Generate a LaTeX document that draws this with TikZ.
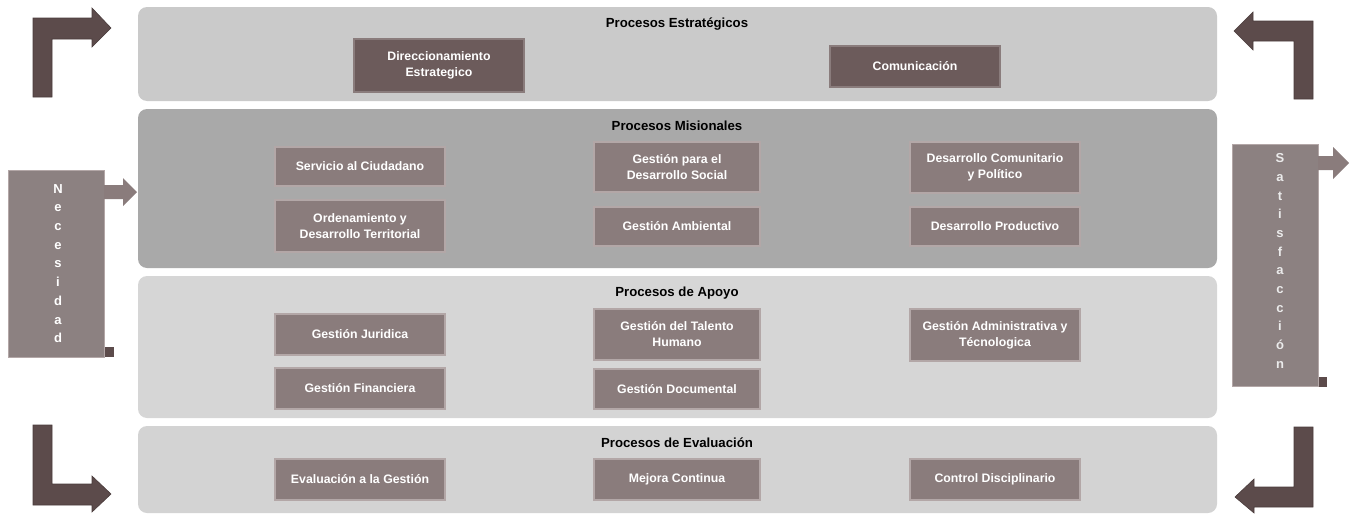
\documentclass[tikz,border=0pt]{standalone}
\usepackage{fontspec}
\setmainfont{Liberation Sans}
\usetikzlibrary{positioning}

\definecolor{panelest}{HTML}{CACACA}
\definecolor{panelmis}{HTML}{A9A9A9}
\definecolor{panelapo}{HTML}{D6D6D6}
\definecolor{paneleva}{HTML}{D3D3D3}
\definecolor{procfill}{HTML}{8A7C7C}
\definecolor{procdark}{HTML}{6C5B5B}
\definecolor{procedge}{HTML}{B3A7A7}
\definecolor{flecha}{HTML}{5C4B4B}
\definecolor{lateral}{HTML}{8C8181}

\tikzset{
  panel/.style={rounded corners=9pt, inner sep=0pt, minimum width=1079pt},
  titulo/.style={font=\bfseries\fontsize{13.2}{15}\selectfont, text=black},
  proceso/.style={fill=procfill, draw=procedge, line width=1.2pt, text=white,
    font=\bfseries\fontsize{12.3}{16}\selectfont, align=center, inner sep=0pt,
    minimum width=170pt, minimum height=41pt},
  estrategico/.style={proceso, fill=procdark, draw=procfill},
  lado/.style={fill=lateral, draw=procedge, line width=0.8pt, inner sep=0pt, minimum width=96pt},
  letras/.style={text=white, font=\bfseries\fontsize{13}{18.7}\selectfont, align=center},
  bloque/.style={fill=flecha, draw=flecha!80!black, line width=0.6pt}
}

\begin{document}
\begin{tikzpicture}[x=1pt,y=-1pt]
        \useasboundingbox (0,0) rectangle (1352,514);

        % franjas
        \node[panel, fill=panelest, minimum height=94pt] at (677.5,54) (estr) {};
        \node[panel, fill=panelmis, minimum height=159pt] at (677.5,188.5) (mis) {};
        \node[panel, fill=panelapo, minimum height=142pt] at (677.5,347) (apo) {};
        \node[panel, fill=paneleva, minimum height=87pt] at (677.5,469.5) (eva) {};

        \node[titulo] at (677,24) (testr) {Procesos Estratégicos};
        \node[titulo] at (677,126) (tmis) {Procesos Misionales};
        \node[titulo] at (677,293) (tapo) {Procesos de Apoyo};
        \node[titulo] at (677,443) (teva) {Procesos de Evaluación};

        \node[estrategico, minimum height=53pt] at (439,65.5) (direc) {Direccionamiento\\Estrategico};
        \node[estrategico] at (915,66.5) (comu) {Comunicación};

        \node[proceso, minimum height=39pt] at (360,166.5) (servicio) {Servicio al Ciudadano};
        \node[proceso, minimum height=52pt] at (360,226) (ordena) {Ordenamiento y\\Desarrollo Territorial};
        \node[proceso, minimum width=166pt, minimum height=50pt] at (677,167) (social) {Gestión para el\\Desarrollo Social};
        \node[proceso, minimum width=166pt, minimum height=39pt] at (677,226.5) (ambiental) {Gestión Ambiental};
        \node[proceso, minimum height=51pt] at (995,167.5) (comunit) {Desarrollo Comunitario\\y Político};
        \node[proceso, minimum height=39pt] at (995,226.5) (productivo) {Desarrollo Productivo};

        \node[proceso] at (360,334.5) (juridica) {Gestión Juridica};
        \node[proceso] at (360,388.5) (financiera) {Gestión Financiera};
        \node[proceso, minimum width=166pt, minimum height=51pt] at (677,334.5) (talento) {Gestión del Talento\\Humano};
        \node[proceso, minimum width=166pt, minimum height=40pt] at (677,389) (documental) {Gestión Documental};
        \node[proceso, minimum height=52pt] at (995,335) (admin) {Gestión Administrativa y\\Técnologica};

        \node[proceso] at (360,479.5) (evalges) {Evaluación a la Gestión};
        \node[proceso, minimum width=166pt] at (677,479.5) (mejora) {Mejora Continua};
        \node[proceso] at (995,479.5) (control) {Control Disciplinario};

        % entrada y salida
        \fill[flecha] (104,347) rectangle (114,357);
        \node[lado, minimum height=187pt] at (56,263.5) (necesidad) {};
        \node[letras] at (58,263.5) (tnec) {N\\e\\c\\e\\s\\i\\d\\a\\d};
        \fill[procfill] (104,185) -- (123,185) -- (123,178) -- (137,192) -- (123,206) -- (123,199) -- (104,199) -- cycle;

        \fill[flecha] (1317,377) rectangle (1327,387);
        \node[lado, minimum width=86pt, minimum height=242pt] at (1275,265) (satisf) {};
        \node[letras, text=white!92!black] at (1280,261) (tsat) {S\\a\\t\\i\\s\\f\\a\\c\\c\\i\\ó\\n};
        \fill[procfill] (1318,156) -- (1333,156) -- (1333,147) -- (1349,163) -- (1333,179) -- (1333,170) -- (1318,170) -- cycle;

        % flechas en las esquinas
        \draw[bloque] (33,97) -- (33,18) -- (92,18) -- (92,8) -- (111,28) -- (92,47) -- (92,39) -- (52,39) -- (52,97) -- cycle;
        \draw[bloque] (33,425) -- (33,505) -- (92,505) -- (92,512) -- (111,494) -- (92,476) -- (92,484) -- (52,484) -- (52,425) -- cycle;
        \draw[bloque] (1313,99) -- (1313,21) -- (1253,21) -- (1253,12) -- (1234,31) -- (1253,50) -- (1253,41) -- (1294,41) -- (1294,99) -- cycle;
        \draw[bloque] (1313,427) -- (1313,507) -- (1254,507) -- (1254,513) -- (1235,497) -- (1254,479) -- (1254,487) -- (1294,487) -- (1294,427) -- cycle;

    \end{tikzpicture}
\end{document}
